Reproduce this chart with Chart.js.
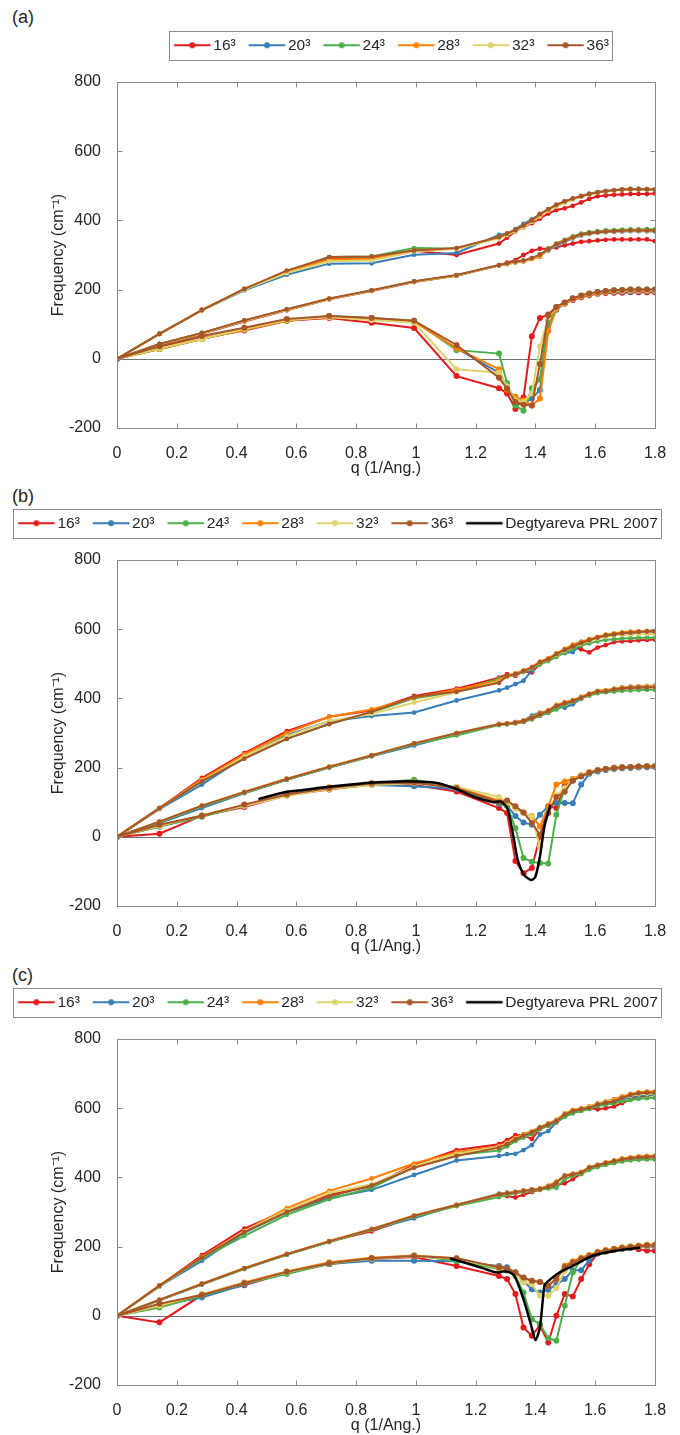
<!DOCTYPE html>
<html>
<head>
<meta charset="utf-8">
<script src="https://cdn.jsdelivr.net/npm/chart.js@4.4.1/dist/chart.umd.min.js"></script>
<style>
  html, body { margin: 0; padding: 0; background: #fff; }
  canvas { position: absolute; left: 0; }
  .tag { position: absolute; left: 12px; font: 18px 'Liberation Sans', Arial, sans-serif;
         line-height: 20px; color: #262626; }
</style>
</head>
<body>
<div class="tag" style="top:7px">(a)</div>
<div class="tag" style="top:486px">(b)</div>
<div class="tag" style="top:965px">(c)</div>
<canvas id="panelA" style="top:0px" width="680" height="478"></canvas>
<canvas id="panelB" style="top:478px" width="680" height="478"></canvas>
<canvas id="panelC" style="top:957px" width="680" height="478"></canvas>
<script>
// shared q grid (1/Ang.)
const Q = [0, 0.142, 0.284, 0.426, 0.568, 0.71, 0.852, 0.994, 1.136, 1.278,
  1.305, 1.333, 1.36, 1.388, 1.415, 1.443, 1.47, 1.498, 1.525, 1.553,
  1.58, 1.608, 1.635, 1.663, 1.69, 1.718, 1.745, 1.773, 1.8];

const sizes = ['16³', '20³', '24³', '28³', '32³', '36³'];
const colors = ['#e41a1c', '#377eb8', '#4daf4a', '#ff7f00', '#e0d36e', '#a65628'];
const xTicks = [0, 0.2, 0.4, 0.6, 0.8, 1, 1.2, 1.4, 1.6, 1.8];
const yTicks = [-200, 0, 200, 400, 600, 800];

// (a)
const a16hi = [0, 72, 141, 200, 252, 290, 292, 312, 300, 333, 350, 368, 380, 392, 405, 420, 430, 435, 442, 452, 462, 470, 472, 474, 475, 476, 476, 476, 478];
const a20hi = [0, 72, 140, 198, 243, 275, 276, 301, 306, 358, 362, 375, 390, 403, 418, 432, 445, 455, 463, 470, 477, 482, 485, 487, 489, 490, 490, 489, 488];
const a24hi = [0, 72, 141, 201, 250, 294, 296, 320, 318, 350, 358, 370, 383, 398, 415, 430, 443, 453, 462, 470, 476, 481, 484, 487, 489, 491, 491, 490, 489];
const a28hi = [0, 72, 141, 202, 253, 287, 289, 314, 318, 352, 362, 372, 385, 400, 418, 432, 445, 455, 463, 470, 476, 481, 484, 487, 489, 490, 490, 490, 489];
const a32hi = [0, 72, 140, 200, 248, 282, 284, 310, 318, 348, 358, 368, 380, 396, 412, 428, 440, 450, 460, 468, 474, 480, 483, 486, 488, 489, 489, 489, 488];
const a36hi = [0, 72, 141, 202, 255, 294, 296, 313, 320, 352, 362, 372, 385, 400, 418, 432, 445, 455, 463, 470, 476, 481, 484, 487, 489, 490, 490, 490, 489];

const a16mid = [0, 40, 72, 108, 140, 172, 196, 222, 240, 270, 278, 285, 300, 312, 318, 318, 322, 328, 333, 338, 340, 342, 344, 345, 345, 345, 345, 345, 340];
const a20mid = [0, 42, 74, 110, 142, 173, 197, 223, 241, 270, 274, 279, 282, 290, 300, 313, 327, 338, 348, 356, 361, 364, 366, 367, 368, 369, 369, 369, 368];
const a24mid = [0, 42, 74, 110, 142, 173, 197, 223, 241, 270, 275, 280, 283, 290, 302, 318, 333, 344, 354, 362, 366, 369, 371, 372, 373, 374, 374, 375, 374];
const a28mid = [0, 42, 74, 110, 142, 173, 197, 223, 241, 270, 274, 278, 282, 288, 295, 315, 332, 342, 351, 358, 363, 366, 368, 369, 370, 371, 371, 371, 370];
const a32mid = [0, 42, 74, 110, 142, 173, 197, 223, 241, 270, 275, 280, 283, 290, 300, 315, 330, 340, 350, 358, 362, 365, 367, 368, 369, 370, 370, 370, 369];
const a36mid = [0, 43, 75, 111, 143, 174, 198, 224, 242, 271, 276, 281, 284, 291, 301, 316, 331, 341, 351, 359, 363, 366, 368, 369, 370, 371, 371, 371, 370];

const a16lo = [0, 35, 60, 82, 110, 118, 104, 89, -50, -85, -100, -145, -112, 65, 118, 128, 150, 160, 170, 178, 184, 188, 190, 191, 191, 192, 192, 192, 192];
const a20lo = [0, 28, 57, 85, 110, 122, 117, 108, 30, -40, -80, -120, -130, -115, -90, 95, 142, 160, 172, 180, 186, 190, 192, 193, 194, 194, 195, 195, 195];
const a24lo = [0, 28, 57, 84, 110, 124, 118, 110, 25, 15, -70, -135, -150, -85, -60, 110, 148, 162, 174, 182, 188, 193, 196, 198, 199, 200, 200, 200, 200];
const a28lo = [0, 28, 57, 84, 110, 122, 117, 108, 30, -30, -90, -110, -120, -135, -115, 80, 145, 160, 172, 180, 186, 190, 193, 195, 196, 197, 197, 197, 197];
const a32lo = [0, 30, 58, 86, 112, 120, 112, 105, -30, -40, -80, -120, -125, -100, 35, 120, 148, 162, 174, 182, 188, 192, 195, 196, 197, 198, 198, 198, 198];
const a36lo = [0, 36, 66, 90, 115, 124, 118, 110, 40, -55, -86, -125, -133, -135, -15, 126, 150, 163, 175, 183, 189, 193, 196, 198, 199, 200, 200, 200, 200];

// (b)
const b16hi = [0, 83, 170, 242, 305, 347, 365, 407, 428, 460, 470, 465, 478, 475, 500, 512, 526, 538, 548, 542, 533, 547, 554, 563, 565, 566, 568, 569, 570];
const b20hi = [0, 80, 151, 230, 294, 334, 349, 359, 394, 423, 431, 441, 451, 480, 504, 513, 526, 531, 534, 555, 568, 575, 580, 583, 585, 586, 587, 587, 588];
const b24hi = [0, 82, 160, 226, 283, 326, 360, 400, 420, 457, 462, 468, 476, 486, 498, 508, 520, 532, 543, 553, 559, 565, 569, 571, 573, 574, 575, 575, 575];
const b28hi = [0, 83, 165, 238, 300, 347, 368, 402, 425, 452, 466, 472, 481, 491, 506, 516, 530, 543, 555, 564, 571, 578, 584, 588, 591, 593, 594, 595, 595];
const b32hi = [0, 82, 162, 232, 290, 335, 355, 388, 418, 448, 462, 470, 478, 488, 503, 512, 526, 538, 549, 558, 566, 573, 578, 582, 584, 585, 586, 586, 586];
const b36hi = [0, 83, 160, 226, 283, 326, 361, 405, 419, 445, 465, 470, 479, 489, 504, 513, 528, 540, 550, 560, 568, 576, 582, 585, 588, 590, 592, 593, 593];

const b16mid = [0, 42, 88, 128, 166, 201, 234, 268, 298, 325, 326, 328, 332, 340, 350, 360, 375, 383, 390, 400, 410, 418, 420, 424, 428, 430, 431, 432, 433];
const b20mid = [0, 40, 83, 126, 165, 200, 233, 264, 296, 325, 327, 331, 336, 350, 359, 360, 375, 373, 383, 400, 410, 418, 421, 426, 431, 433, 434, 435, 437];
const b24mid = [0, 42, 88, 127, 165, 200, 233, 268, 293, 323, 325, 328, 332, 340, 350, 358, 368, 380, 390, 400, 408, 415, 418, 420, 422, 423, 424, 425, 425];
const b28mid = [0, 44, 90, 130, 168, 203, 236, 270, 300, 326, 328, 331, 336, 346, 357, 366, 381, 389, 395, 405, 414, 422, 424, 428, 432, 434, 435, 436, 436];
const b32mid = [0, 44, 90, 129, 167, 202, 235, 270, 299, 325, 327, 330, 334, 344, 354, 363, 378, 386, 392, 402, 412, 420, 422, 426, 430, 432, 433, 434, 434];
const b36mid = [0, 44, 90, 129, 167, 202, 235, 270, 299, 325, 327, 330, 334, 344, 354, 363, 378, 386, 392, 402, 412, 420, 421, 426, 429, 431, 432, 432, 432];

const b16lo = [0, 9, 61, 86, 120, 137, 151, 150, 131, 83, 69, -70, -105, -90, 0, 88, 83, 146, 163, 175, 185, 191, 195, 198, 200, 201, 202, 203, 203];
const b20lo = [0, 30, 60, 90, 120, 140, 150, 146, 138, 95, 90, 60, 41, 35, 64, 88, 98, 98, 97, 151, 182, 189, 193, 196, 198, 199, 200, 201, 202];
const b24lo = [0, 30, 58, 90, 120, 140, 155, 165, 141, 98, 90, 25, -61, -72, -76, -77, 64, 140, 163, 175, 185, 192, 196, 199, 201, 202, 203, 204, 204];
const b28lo = [0, 32, 62, 92, 122, 143, 155, 158, 142, 105, 98, 85, 70, 60, 30, 88, 151, 160, 168, 178, 187, 193, 197, 200, 201, 202, 203, 204, 204];
const b32lo = [0, 32, 62, 90, 118, 138, 150, 155, 145, 115, 100, 80, 70, 59, -28, 70, 120, 140, 165, 177, 186, 192, 196, 199, 201, 202, 203, 204, 204];
const b36lo = [0, 35, 61, 93, 122, 141, 154, 156, 141, 100, 105, 88, 70, 40, 6, 69, 115, 130, 163, 175, 185, 192, 196, 199, 201, 202, 203, 204, 204];

// (c)
const c16hi = [0, 87, 175, 252, 305, 350, 375, 437, 479, 496, 508, 522, 522, 511, 540, 550, 560, 578, 588, 595, 600, 597, 600, 605, 615, 625, 632, 636, 638];
const c20hi = [0, 85, 159, 240, 300, 340, 364, 407, 449, 462, 467, 468, 479, 493, 524, 534, 559, 575, 588, 595, 600, 608, 614, 618, 626, 632, 636, 638, 638];
const c24hi = [0, 85, 166, 231, 292, 337, 370, 430, 465, 478, 490, 505, 515, 525, 540, 550, 560, 575, 585, 592, 598, 606, 610, 614, 620, 624, 627, 629, 630];
const c28hi = [0, 88, 170, 245, 311, 361, 397, 440, 473, 490, 500, 514, 525, 534, 546, 556, 567, 585, 595, 600, 605, 614, 620, 626, 634, 641, 646, 648, 648];
const c32hi = [0, 86, 168, 244, 305, 355, 380, 432, 468, 488, 498, 512, 522, 532, 545, 554, 565, 584, 593, 598, 603, 612, 618, 622, 630, 636, 640, 642, 642];
const c36hi = [0, 87, 168, 242, 300, 345, 377, 428, 462, 486, 496, 510, 521, 530, 544, 553, 563, 582, 592, 597, 601, 611, 616, 620, 630, 638, 643, 645, 645];

const c16mid = [0, 46, 92, 137, 178, 215, 244, 287, 318, 350, 346, 342, 350, 358, 364, 370, 378, 383, 395, 410, 425, 433, 438, 444, 450, 453, 456, 457, 458];
const c20mid = [0, 45, 90, 136, 177, 214, 249, 282, 320, 353, 356, 358, 362, 365, 367, 374, 386, 404, 409, 414, 427, 434, 440, 446, 451, 454, 457, 458, 459];
const c24mid = [0, 45, 91, 135, 176, 213, 248, 286, 317, 343, 350, 354, 358, 361, 364, 368, 370, 395, 405, 410, 422, 430, 436, 441, 446, 449, 451, 452, 452];
const c28mid = [0, 46, 93, 138, 179, 216, 251, 290, 321, 351, 355, 358, 362, 365, 368, 376, 388, 406, 411, 416, 430, 437, 443, 449, 455, 458, 461, 462, 463];
const c32mid = [0, 46, 92, 137, 178, 215, 250, 289, 320, 351, 354, 357, 361, 364, 366, 373, 385, 404, 409, 414, 428, 435, 441, 447, 452, 455, 458, 459, 460];
const c36mid = [0, 46, 92, 137, 178, 215, 250, 289, 320, 351, 354, 357, 361, 364, 366, 373, 385, 404, 409, 414, 428, 435, 441, 447, 452, 455, 458, 459, 460];

const c16lo = [0, -19, 60, 88, 125, 150, 164, 170, 144, 115, 106, 63, -34, -58, -28, -77, 0, 63, 56, 106, 149, 180, 186, 190, 194, 196, 192, 189, 188];
const c20lo = [0, 30, 53, 90, 124, 150, 159, 159, 158, 144, 140, 125, 100, 77, 67, 75, 90, 106, 132, 132, 160, 180, 186, 190, 194, 197, 199, 200, 201];
const c24lo = [0, 24, 58, 93, 121, 150, 165, 174, 159, 135, 130, 115, 67, -10, -24, -65, -72, 29, 125, 164, 173, 183, 188, 192, 196, 199, 201, 203, 204];
const c28lo = [0, 30, 62, 96, 128, 155, 168, 174, 166, 140, 135, 125, 110, 100, 98, 87, 110, 145, 158, 168, 176, 185, 190, 194, 198, 201, 203, 205, 206];
const c32lo = [0, 30, 62, 94, 126, 152, 165, 172, 165, 138, 130, 120, 97, 91, 58, 58, 80, 130, 150, 162, 172, 182, 187, 191, 195, 198, 200, 202, 203];
const c36lo = [0, 35, 60, 94, 127, 152, 166, 173, 166, 140, 135, 125, 111, 101, 98, 87, 106, 140, 154, 164, 173, 183, 188, 192, 196, 199, 201, 203, 204];

// Degtyareva PRL 2007
const degQb = [0.473, 0.568, 0.6, 0.724, 0.857, 0.95, 0.99, 1.06, 1.127, 1.195, 1.26, 1.284, 1.306, 1.324, 1.341, 1.362, 1.386, 1.4, 1.415, 1.43, 1.45];
const degFb = [109, 130, 133, 146, 157, 160, 160, 157, 141, 115, 100, 102, 83, 11, -67, -110, -125, -115, -57, 30, 93];
const degQc = [1.114, 1.17, 1.226, 1.27, 1.29, 1.31, 1.33, 1.36, 1.386, 1.4, 1.415, 1.43, 1.44, 1.48, 1.535, 1.59, 1.67, 1.75];
const degFc = [166, 152, 137, 125, 128, 127, 115, 48, -29, -70, -34, 87, 98, 125, 149, 173, 188, 197];

const FONT = 'Liberation Sans, Arial, Helvetica, sans-serif';
const TEXT = '#262626';
const LEG_SIZE = 15.5;
const LEG_BOX = 42.5;

// legend glyph: short line (with a dot for the simulations), drawn left of the text
function legendIcon(color, dot) {
  const c = document.createElement('canvas');
  c.width = 80; c.height = 12;
  const g = c.getContext('2d');
  const x0 = 29.7, x1 = 66.3;
  g.strokeStyle = color;
  g.lineWidth = dot ? 2 : 2.5;
  g.beginPath(); g.moveTo(x0, 6); g.lineTo(x1, 6); g.stroke();
  if (dot) {
    g.fillStyle = color;
    g.beginPath(); g.arc((x0 + x1) / 2, 6, 3, 0, Math.PI * 2); g.fill();
  }
  return c;
}

const axesBox = {
  id: 'axesBox',
  beforeDatasetsDraw(chart) {
    const {ctx, chartArea: a, scales: {y}} = chart;
    const y0 = Math.round(y.getPixelForValue(0)) + 0.5;
    ctx.save();
    ctx.strokeStyle = '#707070';
    ctx.lineWidth = 1;
    ctx.beginPath(); ctx.moveTo(a.left, y0); ctx.lineTo(a.right, y0); ctx.stroke();
    ctx.restore();
  },
  afterDraw(chart) {
    const {ctx, chartArea: a, scales: {x, y}} = chart;
    ctx.save();
    ctx.strokeStyle = '#8a8a8a';
    ctx.lineWidth = 1;
    const L = Math.round(a.left) + 0.5, R = Math.round(a.right) + 0.5;
    const T = Math.round(a.top) + 0.5, B = Math.round(a.bottom) + 0.5;
    ctx.strokeRect(L, T, R - L, B - T);
    ctx.beginPath();
    xTicks.forEach(v => {
      const px = Math.round(x.getPixelForValue(v)) + 0.5;
      ctx.moveTo(px, B); ctx.lineTo(px, B - 5);
      ctx.moveTo(px, T); ctx.lineTo(px, T + 5);
    });
    yTicks.forEach(v => {
      const py = Math.round(y.getPixelForValue(v)) + 0.5;
      ctx.moveTo(L, py); ctx.lineTo(L + 5, py);
      ctx.moveTo(R, py); ctx.lineTo(R - 5, py);
    });
    ctx.stroke();
    // legend frame
    const boxes = chart.legend && chart.legend.legendHitBoxes;
    if (boxes && boxes.length) {
      const left = Math.min(...boxes.map(b => b.left)) + 6;
      const right = Math.max(...boxes.map(b => b.left + b.width)) + 3;
      const mid = boxes[0].top + boxes[0].height / 2;
      ctx.strokeStyle = '#8c8c8c';
      ctx.strokeRect(Math.round(left) + 0.5, Math.round(mid - 14.5) + 0.5,
        Math.round(right - left), 29);
    }
    ctx.restore();
  }
};

function makePanel(id, hi, mid, lo, deg, legendFull) {
  const datasets = [];
  sizes.forEach((name, s) => {
    [hi[s], mid[s], lo[s]].forEach((vals, b) => {
      datasets.push({
        label: name,
        data: Q.map((q, i) => ({x: q, y: vals[i]})),
        borderColor: colors[s],
        backgroundColor: colors[s],
        pointBackgroundColor: colors[s],
        borderWidth: 2,
        pointRadius: b === 2 ? 3 : 2.4,
        pointBorderWidth: 0,
        pointHoverRadius: 0,
        order: 6 - s,
        legendIcon: b === 0 ? legendIcon(colors[s], true) : null
      });
    });
  });
  if (deg) {
    datasets.push({
      label: 'Degtyareva PRL 2007',
      data: deg[0].map((q, i) => ({x: q, y: deg[1][i]})),
      borderColor: '#000',
      backgroundColor: '#000',
      borderWidth: 2.5,
      pointRadius: 0,
      tension: 0.25,
      order: 0,
      legendIcon: legendIcon('#000', false)
    });
  }

  return new Chart(document.getElementById(id), {
    type: 'line',
    data: {datasets},
    plugins: [axesBox],
    options: {
      responsive: false,
      animation: false,
      devicePixelRatio: 1,
      layout: {padding: {left: 0, right: 15, top: 35.5, bottom: 0}},
      plugins: {
        tooltip: {enabled: false},
        title: {display: false},
        legend: {
          display: true, position: 'top', fullSize: legendFull,
          labels: {
            usePointStyle: true, pointStyleWidth: LEG_BOX, padding: 2,
            color: TEXT, font: {family: FONT, size: LEG_SIZE},
            generateLabels: chart => chart.data.datasets
              .map((d, i) => d.legendIcon ? {
                text: d.label, pointStyle: d.legendIcon, datasetIndex: i,
                fontColor: TEXT, lineWidth: 0, strokeStyle: 'rgba(0,0,0,0)',
                fillStyle: 'rgba(0,0,0,0)', hidden: false
              } : null)
              .filter(Boolean)
          },
          onClick: () => {}
        }
      },
      scales: {
        x: {
          type: 'linear', min: 0, max: 1.8,
          grid: {display: false}, border: {display: false},
          ticks: {
            stepSize: 0.2, color: TEXT, padding: 8, maxRotation: 0,
            font: {family: FONT, size: 16},
            callback: v => String(Number(v.toFixed(1)))
          },
          title: {display: true, text: 'q (1/Ang.)', color: TEXT,
            font: {family: FONT, size: 16}, padding: {top: 0, bottom: 0}},
          afterFit: sc => { sc.height = 50; }
        },
        xTop: {
          type: 'linear', axis: 'x', position: 'top', min: 0, max: 1,
          grid: {display: false}, border: {display: false},
          ticks: {display: false},
          afterFit: sc => { sc.height = 19; }
        },
        y: {
          type: 'linear', min: -200, max: 800,
          grid: {display: false}, border: {display: false},
          ticks: {stepSize: 200, color: TEXT, padding: 8,
            font: {family: FONT, size: 16}},
          title: {display: true, text: 'Frequency (cm⁻¹)', color: TEXT,
            font: {family: FONT, size: 16}, padding: {top: 49, bottom: 0}},
          afterFit: sc => { sc.width = 117; }
        },
        yRight: {
          type: 'linear', axis: 'y', position: 'right', min: 0, max: 1,
          grid: {display: false}, border: {display: false},
          ticks: {display: false},
          afterFit: sc => { sc.width = 10; }
        }
      }
    }
  });
}

makePanel('panelA',
  [a16hi, a20hi, a24hi, a28hi, a32hi, a36hi],
  [a16mid, a20mid, a24mid, a28mid, a32mid, a36mid],
  [a16lo, a20lo, a24lo, a28lo, a32lo, a36lo], null, false);
makePanel('panelB',
  [b16hi, b20hi, b24hi, b28hi, b32hi, b36hi],
  [b16mid, b20mid, b24mid, b28mid, b32mid, b36mid],
  [b16lo, b20lo, b24lo, b28lo, b32lo, b36lo], [degQb, degFb], true);
makePanel('panelC',
  [c16hi, c20hi, c24hi, c28hi, c32hi, c36hi],
  [c16mid, c20mid, c24mid, c28mid, c32mid, c36mid],
  [c16lo, c20lo, c24lo, c28lo, c32lo, c36lo], [degQc, degFc], true);
</script>
</body>
</html>
